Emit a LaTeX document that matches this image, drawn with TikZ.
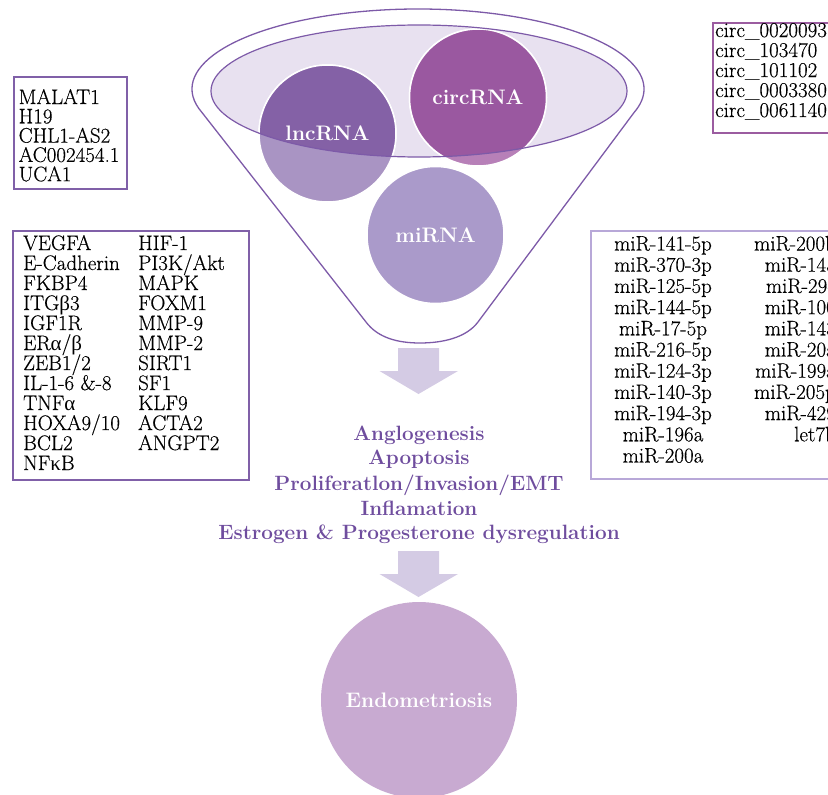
\documentclass[tikz,border=0pt]{standalone}
\usepackage{fontspec}
\newfontfamily\gr{Liberation Serif}
\newfontfamily\itemfont{Latin Modern Roman}[FakeBold=0.4]
\usetikzlibrary{shapes.geometric}
\definecolor{funnelc}{RGB}{125,90,168}
\definecolor{ellfill}{RGB}{232,225,240}
\definecolor{lncdark}{RGB}{132,97,166}
\definecolor{lnclight}{RGB}{169,148,195}
\definecolor{circdark}{RGB}{154,88,160}
\definecolor{circlight}{RGB}{183,128,184}
\definecolor{mic}{RGB}{170,154,202}
\definecolor{endoc}{RGB}{200,170,209}
\definecolor{arrowc}{RGB}{212,203,228}
\definecolor{txtpurple}{RGB}{111,77,158}
\definecolor{boxA}{RGB}{128,96,168}
\definecolor{boxC}{RGB}{155,92,160}
\definecolor{boxM}{RGB}{184,168,216}
\begin{document}
\begin{tikzpicture}[x=1pt,y=1pt,
  rna/.style={circle,inner sep=0pt,minimum size=137pt,draw=white,line width=1.5pt},
  rnatext/.style={text=white,font=\fontsize{21}{24}\selectfont\bfseries,inner sep=0pt},
  item/.style={font=\itemfont\fontsize{21}{21}\selectfont,inner sep=0pt},
  listbox/.style={draw,line width=2pt,inner sep=0pt,anchor=north west},
  effect/.style={text=txtpurple,font=\fontsize{20.7}{24}\selectfont\bfseries,inner sep=0pt,anchor=base},
  blockarrow/.style={fill=arrowc}]
\useasboundingbox (0,0) rectangle (828,-795);
\clip (0,0) rectangle (828,-795);

% funnel outline
\draw[funnelc,line width=1.3pt] (366,-322) -- (201.9,-112.4)
  arc[start angle=197,end angle=-17,x radius=226pt,y radius=80pt]
  -- (478,-322) .. controls (466,-338) and (442,-343) .. (420,-343)
  .. controls (398,-343) and (378,-338) .. (366,-322) -- cycle;

% inner bowl
\node[ellipse,inner sep=0pt,minimum width=416pt,minimum height=132pt,fill=ellfill] (bowl) at (419,-91) {};

% circles
\node[rna,fill=lnclight] (lnc) at (327.5,-133.5) {};
\node[rna,fill=circlight] (circ) at (478,-97.5) {};
\node[rna,fill=mic] (mi) at (435.5,-235) {};
\begin{scope}
  \clip (bowl.center) ellipse[x radius=208pt,y radius=66pt];
  \fill[lncdark,draw=white,line width=1.5pt] (lnc.center) circle (68.5pt);
  \fill[circdark,draw=white,line width=1.5pt] (circ.center) circle (68.5pt);
\end{scope}
\draw[funnelc,line width=1.2pt] (bowl.center) ellipse[x radius=208pt,y radius=66pt];

\node[rnatext] (lnct) at (lnc.center) {lncRNA};
\node[rnatext] (circt) at (circ.center) {circRNA};
\node[rnatext] (mit) at (mi.center) {miRNA};

% lncRNA list
\node[listbox,draw=boxA,minimum width=113pt,minimum height=112pt] (lncbox) at (13,-76) {};
\foreach \t [count=\i from 0] in {MALAT1,H19,CHL1-AS2,AC002454.1,UCA1}
  \node[item,anchor=base west] (l\i) at (18.5,{-104-19.3*\i}) {\t};

% circRNA list
\node[listbox,draw=boxC,minimum width=140pt,minimum height=110pt] (circbox) at (712,-22) {};
\foreach \t [count=\i from 0] in {circ\_0020093,circ\_103470,circ\_101102,circ\_0003380,circ\_0061140}
  \node[item,anchor=base west] (c\i) at (715,{-37-20*\i}) {\t};

% genes list
\node[listbox,draw=boxA,minimum width=236pt,minimum height=249pt] (genebox) at (12,-230) {};
\foreach \t [count=\i from 0] in {VEGFA,E-Cadherin,FKBP4,{ITG{\gr β}3},IGF1R,{ER{\gr α}/{\gr β}},ZEB1/2,{IL-1-6 \&-8},{TNF{\gr α}},HOXA9/10,BCL2,{NF{\gr κ}B}}
  \node[item,anchor=base west] (ga\i) at (23,{-250-20*\i}) {\t};
\foreach \t [count=\i from 0] in {HIF-1,PI3K/Akt,MAPK,FOXM1,MMP-9,MMP-2,SIRT1,SF1,KLF9,ACTA2,ANGPT2}
  \node[item,anchor=base west] (gb\i) at (138,{-250-20*\i}) {\t};

% miRNA list
\node[listbox,draw=boxM,minimum width=260pt,minimum height=248pt] (mibox) at (590,-230) {};
\foreach \t [count=\i from 0] in {miR-141-5p,miR-370-3p,miR-125-5p,miR-144-5p,miR-17-5p,miR-216-5p,miR-124-3p,miR-140-3p,miR-194-3p,miR-196a,miR-200a}
  \node[item,anchor=base] (ma\i) at (663,{-250.5-21.2*\i}) {\t};
\foreach \t [count=\i from 0] in {miR-200b,miR-145,miR-29c,miR-100,miR-143,miR-20a,miR-199a,miR-205p,miR-429,let7b}
  \node[item,anchor=base east] (mb\i) at (836,{-250.5-21.2*\i}) {\t};

% arrows
\coordinate (a1) at (418.5,-348);
\fill[blockarrow] (a1) ++(-20.5,0) -- ++(41,0) -- ++(0,-23) -- ++(19,0) -- (418.5,-394) -- (379.5,-371) -- (398,-371) -- cycle;
\coordinate (a2) at (418.5,-551);
\fill[blockarrow] (a2) ++(-20.5,0) -- ++(41,0) -- ++(0,-23) -- ++(19,0) -- (418.5,-597) -- (379.5,-574) -- (398,-574) -- cycle;

% effects
\node[effect] (e1) at (419,-440) {Anglogenesis};
\node[effect] (e2) at (419,-464) {Apoptosis};
\node[effect] (e3) at (419,-490) {Proliferatlon/Invasion/EMT};
\node[effect] (e4) at (419,-515) {Inflamation};
\node[effect] (e5) at (419,-539) {Estrogen \& Progesterone dysregulation};

% endometriosis
\node[circle,inner sep=0pt,minimum size=196pt,fill=endoc] (endo) at (419,-700) {};
\node[rnatext] (endot) at (endo.center) {Endometriosis};
\end{tikzpicture}
\end{document}
